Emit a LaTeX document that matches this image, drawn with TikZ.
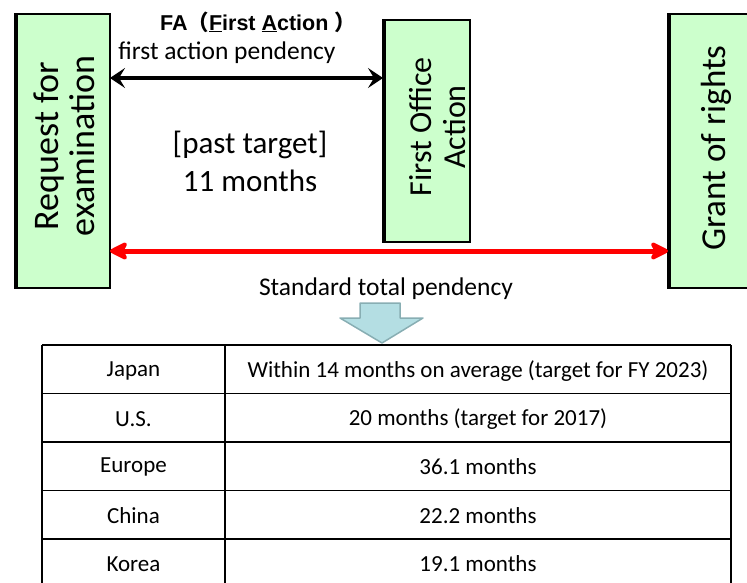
\documentclass[tikz,border=0pt]{standalone}
\usepackage{fontspec}
\setmainfont{Carlito}
\newfontfamily\titlefont{Liberation Sans}
\newfontfamily\cjk{Noto Sans CJK JP}
\usetikzlibrary{arrows.meta}
\definecolor{boxgreen}{HTML}{CCFFCC}
\definecolor{downfill}{HTML}{B4DEE3}
\definecolor{downline}{HTML}{88AEB3}
\tikzset{
  x=1pt, y=-1pt,
  stagebox/.style={draw=black, line width=1.4pt, fill=boxgreen},
  stagetext/.style={rotate=90, align=center, font=\fontsize{36}{36}\selectfont},
  cell/.style={font=\fontsize{23}{26}\selectfont},
  gridline/.style={line width=1.6pt},
}
\begin{document}
\begin{tikzpicture}
\useasboundingbox (0,0) rectangle (747,583);

% stage boxes
\draw[stagebox] (15,14) rectangle (110,288);
\draw[line width=3pt] (16,14) -- (16,288);
\node[stagetext] (req) at (64,146) {Request for\\examination};
\coordinate (reqE1) at (110,78);
\coordinate (reqE2) at (110,251);

\draw[stagebox] (383,20) rectangle (470,242);
\draw[line width=3pt] (384,20) -- (384,242);
\node[stagetext, font=\fontsize{32}{34}\selectfont] (foa) at (438,127) {First Office\\Action};
\coordinate (foaW) at (383,78);

\draw[stagebox] (668,14) rectangle (760,288);
\draw[line width=3pt] (669,14) -- (669,288);
\node[stagetext, font=\fontsize{35}{36}\selectfont] (grant) at (716,148) {Grant of rights};
\coordinate (grantW) at (668,251);

% first action pendency
\node[font=\titlefont\bfseries\fontsize{21.5}{23}\selectfont] (fa) at (258,22)
  {FA{\cjk （}\underline{F}irst \underline{A}ction {\cjk ）}};
\node[font=\fontsize{25.5}{28}\selectfont] (fap) at (227,53) {first action pendency};
\draw[line width=3.5pt, {Stealth[length=15pt,width=20pt,inset=6pt]}-{Stealth[length=15pt,width=20pt,inset=6pt]}]
  (reqE1) -- (foaW);

\node[align=center, font=\fontsize{31}{38}\selectfont] (past) at (250,161)
  {[past target]\\11 months};

% total pendency
\draw[red, line width=5pt, {Stealth[length=22pt,width=22pt,inset=6pt,round]}-{Stealth[length=22pt,width=22pt,inset=6pt,round]}]
  (reqE2) -- (grantW);
\node[font=\fontsize{25.5}{28}\selectfont] (std) at (386,289) {Standard total pendency};

% down arrow
\draw[fill=downfill, draw=downline, line width=1.5pt, line join=round]
  (360,303) -- (400,303) -- (400,318) -- (423,318) -- (382,343)
  -- (340,318) -- (360,318) -- cycle;

% table
\foreach \y in {345,393.5,442,490.5,539}
  \draw[gridline] (42,\y) -- (731,\y);
\draw[gridline] (42,345) -- (42,590);
\draw[gridline] (225,345) -- (225,590);
\draw[gridline] (731,345) -- (731,590);

\node[cell] (c1) at (133.5,371) {Japan};
\node[cell] (v1) at (478,371) {Within 14 months on average (target for FY 2023)};
\node[cell] (c2) at (133.5,419) {U.S.};
\node[cell] (v2) at (478,419) {20 months (target for 2017)};
\node[cell] (c3) at (133.5,467) {Europe};
\node[cell] (v3) at (478,467) {36.1 months};
\node[cell] (c4) at (133.5,516) {China};
\node[cell] (v4) at (478,516) {22.2 months};
\node[cell] (c5) at (133.5,564) {Korea};
\node[cell] (v5) at (478,564) {19.1 months};
\end{tikzpicture}
\end{document}
